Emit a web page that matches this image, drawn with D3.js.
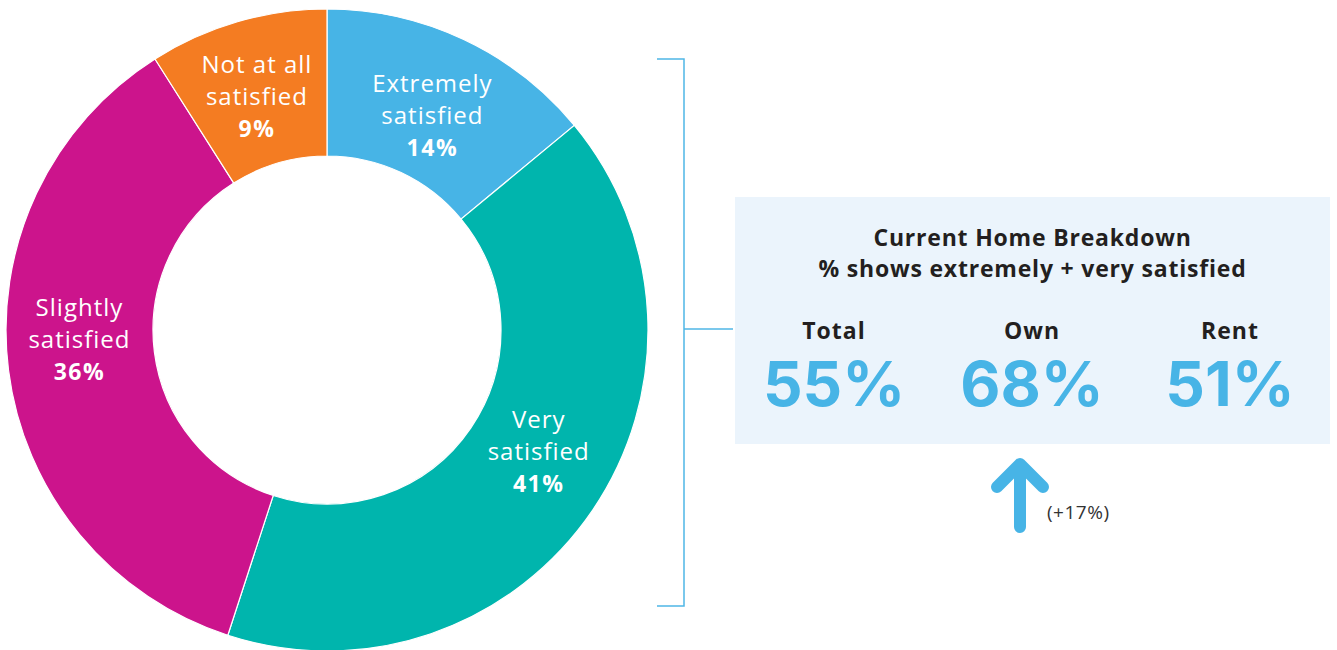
<!DOCTYPE html>
<html>
<head>
<meta charset="utf-8">
<script src="https://cdn.jsdelivr.net/npm/d3@7/dist/d3.min.js"></script>
<style>
  html, body { margin: 0; padding: 0; background: #ffffff; }
  svg { display: block; }
  text { font-family: "Open Sans", "Noto Sans", sans-serif; }
  text.big { font-family: Inter, "Open Sans", sans-serif; }
</style>
</head>
<body>
<svg id="chart" width="1337" height="650"></svg>
<script>
// Satisfaction with current home (share of respondents, %)
const categories = ["Extremely satisfied", "Very satisfied", "Slightly satisfied", "Not at all satisfied"];
const labelLines = [["Extremely", "satisfied"], ["Very", "satisfied"], ["Slightly", "satisfied"], ["Not at all", "satisfied"]];
const shares = [14, 41, 36, 9];
const sliceColors = ["#47b4e6", "#00b5ad", "#cc148c", "#f47c22"];

// Extremely + very satisfied, by tenure
const tenureGroups = ["Total", "Own", "Rent"];
const tenureShares = [55, 68, 51];
const panelTitle = ["Current Home Breakdown", "% shows extremely + very satisfied"];

const svg = d3.select("#chart");

// ---- donut ----
const cx = 327, cy = 330, rOuter = 321, rInner = 174;
const pie = d3.pie().sort(null).value(d => d);
const arc = d3.arc().innerRadius(rInner).outerRadius(rOuter);
const arcs = pie(shares);

const donut = svg.append("g").attr("transform", `translate(${cx},${cy})`);
donut.selectAll("path.slice")
  .data(arcs)
  .join("path")
  .attr("class", "slice")
  .attr("d", arc)
  .attr("fill", (d, i) => sliceColors[i])
  .attr("stroke", "#ffffff")
  .attr("stroke-width", 1.2);

// label block anchored on the middle line, shifted from the arc centroid
const labelNudge = [[0, 18], [7, -9], [-2, -13], [-1, 13]];
const lineGap = 32;
const labels = donut.selectAll("g.label")
  .data(arcs)
  .join("g")
  .attr("class", "label")
  .attr("transform", (d, i) => {
    const [x, y] = arc.centroid(d);
    return `translate(${x + labelNudge[i][0]},${y + labelNudge[i][1]})`;
  });
labels.each(function (d, i) {
  const g = d3.select(this);
  labelLines[i].forEach((line, k) => {
    g.append("text")
      .attr("x", 0).attr("y", (k - 1) * lineGap)
      .attr("text-anchor", "middle")
      .attr("fill", "#ffffff")
      .attr("font-size", 24)
      .attr("letter-spacing", 1)
      .text(line);
  });
  g.append("text")
    .attr("x", 0).attr("y", lineGap)
    .attr("text-anchor", "middle")
    .attr("fill", "#ffffff")
    .attr("font-size", 23)
    .attr("font-weight", 700)
    .attr("letter-spacing", 1.5)
    .text(d.data + "%");
});

// ---- bracket linking the donut to the breakdown panel ----
const accent = "#4fb6e6";
const bracket = svg.append("g")
  .attr("fill", "none")
  .attr("stroke", accent)
  .attr("stroke-width", 1.5);
bracket.append("path").attr("d", "M657,59 H684 V606 H657");
bracket.append("path").attr("d", "M684,329 H733");

// ---- breakdown panel ----
const panel = { x: 735, y: 197, w: 595, h: 247 };
svg.append("rect")
  .attr("x", panel.x).attr("y", panel.y)
  .attr("width", panel.w).attr("height", panel.h)
  .attr("fill", "#ebf4fc");

const midX = panel.x + panel.w / 2;
panelTitle.forEach((t, k) => {
  svg.append("text")
    .attr("x", midX).attr("y", 246 + k * 31)
    .attr("text-anchor", "middle")
    .attr("fill", "#231f20")
    .attr("font-size", 23)
    .attr("font-weight", 700)
    .attr("letter-spacing", 0.8)
    .text(t);
});

const colX = d3.scalePoint().domain(tenureGroups).range([834, 1230]);
const cols = svg.selectAll("g.col")
  .data(tenureGroups)
  .join("g")
  .attr("class", "col")
  .attr("transform", d => `translate(${colX(d)},0)`);
cols.append("text")
  .attr("y", 339)
  .attr("text-anchor", "middle")
  .attr("fill", "#231f20")
  .attr("font-size", 23)
  .attr("font-weight", 700)
  .attr("letter-spacing", 1)
  .text(d => d);
cols.append("text")
  .attr("class", "big")
  .attr("y", 406)
  .attr("text-anchor", "middle")
  .attr("fill", "#47b4e6")
  .attr("font-size", 62)
  .attr("font-weight", 700)
  .text((d, i) => tenureShares[i] + "%");

// ---- own vs rent uplift arrow ----
const uplift = tenureShares[1] - tenureShares[2];
const ax = colX("Own") - 12;
svg.append("path")
  .attr("d", `M${ax},527 V466 M${ax - 23},487 L${ax},464 L${ax + 23},487`)
  .attr("fill", "none")
  .attr("stroke", "#47b4e6")
  .attr("stroke-width", 12)
  .attr("stroke-linecap", "round")
  .attr("stroke-linejoin", "round");
svg.append("text")
  .attr("x", ax + 27).attr("y", 519)
  .attr("fill", "#333333")
  .attr("font-size", 19)
  .attr("letter-spacing", 0.5)
  .text(`(+${uplift}%)`);
</script>
</body>
</html>
